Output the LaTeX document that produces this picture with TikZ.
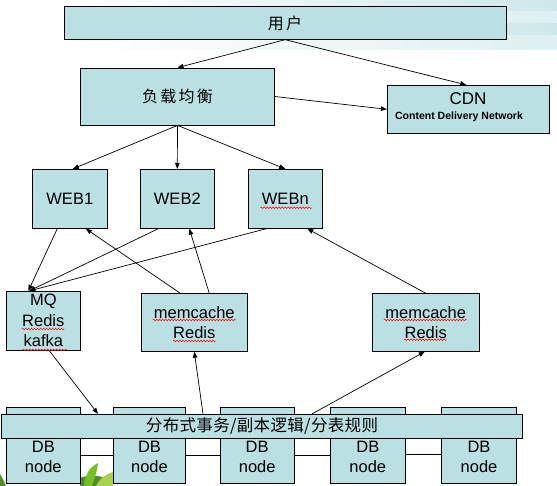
\documentclass[tikz,border=0pt]{standalone}
\usepackage{fontspec}
\setmainfont{Liberation Sans}
\newfontfamily\cjk[LetterSpace=14]{Noto Sans CJK SC}
\newfontfamily\cjkwide[LetterSpace=2]{Noto Sans CJK SC}
\usetikzlibrary{arrows.meta,calc,decorations.pathmorphing}
\definecolor{boxfill}{RGB}{187,224,227}
\definecolor{bandA}{RGB}{206,232,234}
\definecolor{bandB}{RGB}{222,240,241}
\definecolor{leafA}{RGB}{120,190,40}
\definecolor{leafB}{RGB}{80,140,40}
\definecolor{leafC}{RGB}{170,210,80}
\begin{document}
\begin{tikzpicture}[x=1pt,y=-1pt,
  box/.style={draw=black,line width=0.8pt,fill=boxfill,rectangle,inner sep=0pt,
    align=center,font=\fontsize{16.5}{20.5}\selectfont},
  txt/.style={inner sep=0pt,align=center,font=\fontsize{16.5}{20.5}\selectfont},
  arr/.style={-{Triangle[length=6pt,width=4.5pt]},line width=0.7pt},
  link/.style={line width=0.8pt},
  wave/.style={red,line width=0.5pt,decorate,decoration={snake,amplitude=0.8pt,segment length=3pt}}]
\useasboundingbox (0,0) rectangle (557,486);
% background bands top right
\shade[left color=white,right color=bandA] (80,0) rectangle (557,12);
\shade[left color=white,right color=bandB] (80,12) rectangle (557,24);
\shade[left color=white,right color=bandA] (80,24) rectangle (557,36);
\shade[left color=white,right color=bandB] (80,36) rectangle (557,50);
% leaves bottom left
\fill[leafB] (0,474) .. controls (3,479) .. (6,486) -- (0,486) -- cycle;
\fill[leafB] (80,478) .. controls (90,474) and (100,475) .. (113,481) -- (113,486) -- (80,486) -- cycle;
\fill[leafA] (84,486) .. controls (85,474) and (90,467) .. (98,463) .. controls (97,472) and (94,480) .. (92,486) -- cycle;
\fill[leafC] (96,486) .. controls (100,478) and (106,474) .. (113,472) -- (113,486) -- cycle;
% boxes
\node[box,minimum width=441.6pt,minimum height=32.6pt,font=\cjk\fontsize{16}{20}\selectfont] (user) at (285.1,23) {用户};
\node[box,minimum width=193.6pt,minimum height=57pt,font=\cjk\fontsize{16}{20}\selectfont] (lb) at (177.5,96.5) {负载均衡};
\node[box,minimum width=162pt,minimum height=48pt] (cdn) at (468.3,109.3) {};
\node[txt,font=\fontsize{17}{20}\selectfont] (cdnt) at (468,98.3) {CDN};
\node[txt,font=\bfseries\fontsize{10.5}{12}\selectfont] (cdns) at (459,116.7) {Content Delivery Network};
\node[box,minimum width=75pt,minimum height=59pt] (web1) at (69.8,198.8) {WEB1};
\node[box,minimum width=74pt,minimum height=59pt] (web2) at (177.3,198.8) {WEB2};
\node[box,minimum width=74pt,minimum height=59pt] (webn) at (285.3,198.8) {WEBn};
\node[box,minimum width=74pt,minimum height=59pt] (mq) at (43.3,320.8) {MQ\\Redis\\kafka};
\node[box,minimum width=106pt,minimum height=57.6pt,font=\fontsize{16.5}{19.4}\selectfont] (mc1) at (194.3,322.5) {memcache\\Redis};
\node[box,minimum width=107pt,minimum height=57.6pt,font=\fontsize{16.5}{19.4}\selectfont] (mc2) at (425.75,322.5) {memcache\\Redis};
% DB nodes
\node[box,minimum width=74pt,minimum height=76pt] (db1) at (43.3,445.3) {};
\node[box,minimum width=72.4pt,minimum height=76pt] (db2) at (149.5,445.3) {};
\node[box,minimum width=74pt,minimum height=76pt] (db3) at (257.2,445.3) {};
\node[box,minimum width=75pt,minimum height=76pt] (db4) at (367.8,445.3) {};
\node[box,minimum width=74.6pt,minimum height=76pt] (db5) at (479,445.3) {};
\foreach \d in {db1,db2,db3,db4,db5}{
  \node[txt] (\d t) at ([yshift=-11.5pt]\d.center) {DB\\node};
}
\draw[link] ([yshift=-10pt]db1.east) -- ([yshift=-10pt]db2.west);
\draw[link] ([yshift=-10pt]db2.east) -- ([yshift=-10pt]db3.west);
\draw[link] ([yshift=-10pt]db3.east) -- ([yshift=-10pt]db4.west);
\draw[link] ([yshift=-9pt]db4.east) -- ([yshift=-9pt]db5.west);
\node[box,minimum width=521pt,minimum height=24pt,font=\cjkwide\fontsize{16.5}{20}\selectfont] (bar) at (262,426.3) {分布式事务/副本逻辑/分表规则};
% spelling waves
\draw[wave] ($(webn.center)+(-25,9)$) -- ++(52,0);
\draw[wave] ($(mq.center)+(-21.6,8.2)$) -- ++(42.6,0);
\draw[wave] ($(mq.center)+(-20.6,29)$) -- ++(44,0);
\draw[wave] ($(mc1.center)+(-41.5,-2.5)$) -- ++(83,0);
\draw[wave] ($(mc1.center)+(-21.3,18.5)$) -- ++(42.6,0);
\draw[wave] ($(mc2.center)+(-42,-2.5)$) -- ++(83,0);
\draw[wave] ($(mc2.center)+(-21.7,17.2)$) -- ++(42.5,0);
% connectors
\draw[arr] (user.south) -- (lb.north);
\draw[arr] (user.south) -- ([xshift=-2pt]cdn.north);
\draw[arr] (lb.east) -- (cdn.west);
\draw[arr] (lb.south) -- ([xshift=3pt]web1.north);
\draw[arr] (lb.south) -- (web2.north);
\draw[arr] (lb.south) -- (webn.north);
\draw[arr] ([xshift=-12.5pt]web1.south) -- ([xshift=-15pt]mq.north);
\draw[arr] ([xshift=-19pt]web2.south) -- ([xshift=-14pt]mq.north);
\draw[arr] ([xshift=-19pt]webn.south) -- ([xshift=-14pt]mq.north);
\draw[arr] ([xshift=-14pt]mc1.north) -- ([xshift=16pt]web1.south);
\draw[arr] ([xshift=15pt]mc1.north) -- ([xshift=12pt]web2.south);
\draw[arr] (mc2.north) -- ([xshift=22pt]webn.south);
\draw[arr] ([xshift=6pt]mq.south) -- ([xshift=-164pt]bar.north);
\draw[arr] ([xshift=-59pt]bar.north) -- (mc1.south);
\draw[arr] ([xshift=50pt]bar.north) -- ([xshift=-1pt]mc2.south);
\end{tikzpicture}
\end{document}
